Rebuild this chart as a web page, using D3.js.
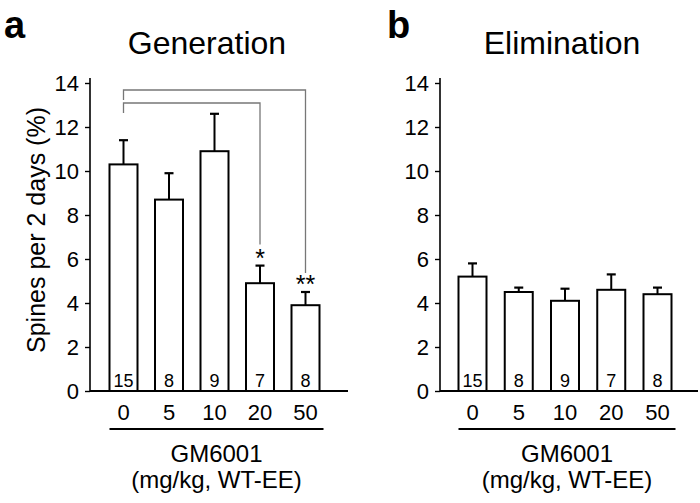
<!DOCTYPE html>
<html>
<head>
<meta charset="utf-8">
<script src="https://cdn.jsdelivr.net/npm/d3@7"></script>
<style>
  body { margin: 0; background: #fff; }
  svg { display: block; font-family: "Liberation Sans", Arial, sans-serif; fill: #000; }
</style>
</head>
<body>
<svg id="chart" width="700" height="503"></svg>
<script>
(function () {
'use strict';

// data
var doses = ["0", "5", "10", "20", "50"];
var nMice = [15, 8, 9, 7, 8];
var genMean = [10.3, 8.7, 10.9, 4.9, 3.9];
var genSem = [1.1, 1.2, 1.7, 0.8, 0.6];
var elimMean = [5.2, 4.5, 4.1, 4.6, 4.4];
var elimSem = [0.6, 0.2, 0.55, 0.7, 0.3];
var yTicks = [0, 2, 4, 6, 8, 10, 12, 14];
var genCompare = [
  { from: "0", to: "20", mark: "*" },
  { from: "0", to: "50", mark: "**" }
];

var svg = d3.select("#chart");
var y = d3.scaleLinear().domain([0, 14]).range([391, 83]);
var barW = 28;

function drawPanel(opts) {
  var g = svg.append("g");
  var x = d3.scalePoint().domain(doses).range(opts.xRange);

  // panel letter + title
  g.append("text").attr("x", opts.letterX).attr("y", 38)
    .attr("font-size", 38).attr("font-weight", "bold").text(opts.letter);
  g.append("text").attr("x", opts.titleX).attr("y", 54)
    .attr("text-anchor", "middle").attr("font-size", 32).text(opts.title);

  // y axis
  var ya = g.append("g")
    .attr("transform", "translate(" + opts.axisX + ",0)")
    .call(d3.axisLeft(y).tickValues(yTicks).tickSize(5).tickSizeOuter(0).tickPadding(6));
  ya.attr("font-family", null).attr("font-size", 22);
  ya.selectAll(".tick text").attr("font-size", 22).attr("fill", "#000");
  ya.select(".domain").attr("stroke", "#000").attr("stroke-width", 1.6)
    .attr("d", "M0," + (y(14) - 5) + "V" + y(0));
  ya.selectAll(".tick line").attr("stroke", "#000").attr("stroke-width", 1.4);

  // bars
  var data = doses.map(function (d, i) {
    return { dose: d, mean: opts.mean[i], sem: opts.sem[i], n: nMice[i] };
  });
  var bars = g.selectAll("g.bar").data(data).enter().append("g").attr("class", "bar");

  bars.append("line")
    .attr("x1", function (d) { return x(d.dose); })
    .attr("x2", function (d) { return x(d.dose); })
    .attr("y1", function (d) { return y(d.mean); })
    .attr("y2", function (d) { return y(d.mean + d.sem); })
    .attr("stroke", "#000").attr("stroke-width", 2);
  bars.append("line")
    .attr("x1", function (d) { return x(d.dose) - 4.5; })
    .attr("x2", function (d) { return x(d.dose) + 4.5; })
    .attr("y1", function (d) { return y(d.mean + d.sem); })
    .attr("y2", function (d) { return y(d.mean + d.sem); })
    .attr("stroke", "#000").attr("stroke-width", 2.2);
  bars.append("rect")
    .attr("x", function (d) { return x(d.dose) - barW / 2; })
    .attr("y", function (d) { return y(d.mean); })
    .attr("width", barW)
    .attr("height", function (d) { return y(0) - y(d.mean); })
    .attr("fill", "#fff").attr("stroke", "#000").attr("stroke-width", 2);
  bars.append("text")
    .attr("x", function (d) { return x(d.dose); })
    .attr("y", y(0) - 4)
    .attr("text-anchor", "middle").attr("font-size", 18)
    .text(function (d) { return d.n; });

  // x axis baseline
  g.append("line").attr("x1", opts.axisX).attr("x2", opts.axisEnd)
    .attr("y1", y(0)).attr("y2", y(0)).attr("stroke", "#000").attr("stroke-width", 2);

  // dose labels
  g.selectAll("text.dose").data(doses).enter().append("text")
    .attr("class", "dose")
    .attr("x", function (d) { return x(d); })
    .attr("y", 420)
    .attr("text-anchor", "middle").attr("font-size", 22)
    .text(function (d) { return d; });

  var x0 = x(doses[0]) - barW / 2, x1 = x(doses[doses.length - 1]) + barW / 2 + 4;
  g.append("line").attr("x1", x0).attr("x2", x1).attr("y1", 429).attr("y2", 429)
    .attr("stroke", "#000").attr("stroke-width", 2.2);
  var cx = (x0 + x1) / 2;
  g.append("text").attr("x", cx).attr("y", 462).attr("text-anchor", "middle")
    .attr("font-size", 24).text("GM6001");
  g.append("text").attr("x", cx).attr("y", 488).attr("text-anchor", "middle")
    .attr("font-size", 24).text("(mg/kg, WT-EE)");

  return { g: g, x: x, data: data };
}

var a = drawPanel({
  letter: "a", letterX: 4, title: "Generation", titleX: 207,
  axisX: 90, axisEnd: 348, xRange: [123.5, 305.5],
  mean: genMean, sem: genSem
});
drawPanel({
  letter: "b", letterX: 387, title: "Elimination", titleX: 562,
  axisX: 440, axisEnd: 698, xRange: [472.5, 657.5],
  mean: elimMean, sem: elimSem
});

// y axis title (shared, panel a)
svg.append("text")
  .attr("transform", "translate(45,230) rotate(-90)")
  .attr("text-anchor", "middle").attr("font-size", 25)
  .text("Spines per 2 days (%)");

// significance brackets, panel a
genCompare.forEach(function (c, i) {
  var level = y(14) + 20 - i * 13;
  var xs = a.x(c.from), xe = a.x(c.to);
  var j = doses.indexOf(c.to);
  var topErr = y(genMean[j] + genSem[j]);
  a.g.append("path")
    .attr("d", "M" + xs + "," + (level + 10) + "V" + level + "H" + xe + "V" + (topErr - 21 + i * 2))
    .attr("fill", "none").attr("stroke", "#777").attr("stroke-width", 1.3);
  a.g.append("text")
    .attr("x", xe).attr("y", topErr + 1)
    .attr("text-anchor", "middle").attr("font-size", 25)
    .text(c.mark);
});
})();
</script>
</body>
</html>
